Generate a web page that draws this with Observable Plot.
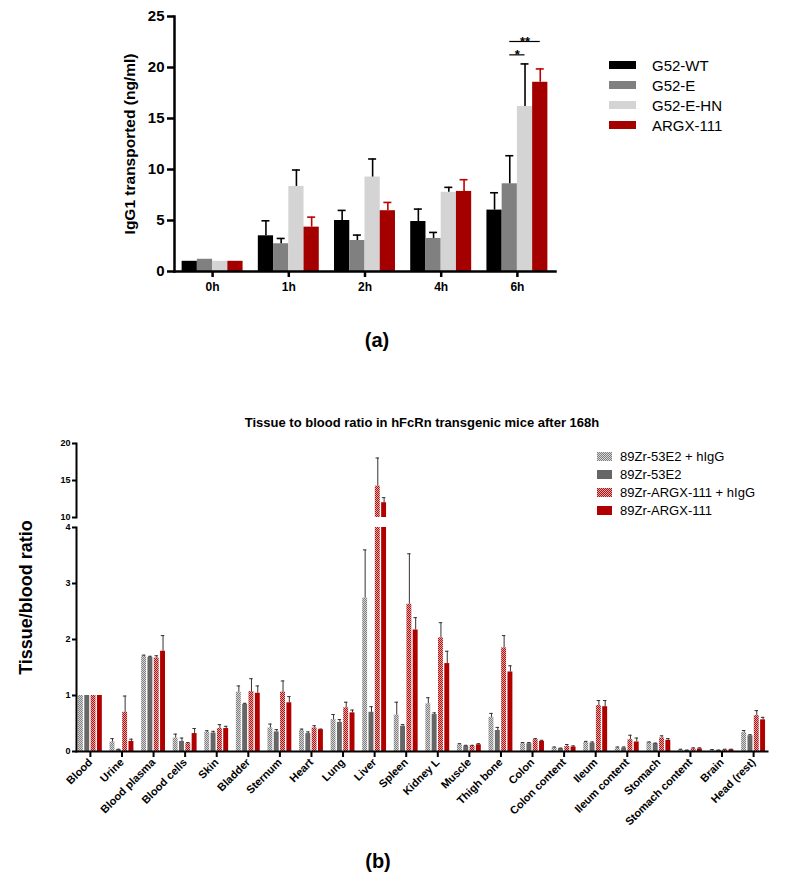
<!DOCTYPE html>
<html>
<head>
<meta charset="utf-8">
<script src="https://cdn.jsdelivr.net/npm/d3@7"></script>
<script src="https://cdn.jsdelivr.net/npm/@observablehq/plot@0.6"></script>
<style>
  body { margin: 0; background: #fff; }
  #root { position: relative; width: 789px; height: 880px; overflow: hidden;
          font-family: "Liberation Sans", Arial, sans-serif; color: #000; background: #fff; }
  .abs { position: absolute; }
  .leg { position: absolute; }
  .leg .row { display: flex; align-items: center; white-space: nowrap; }
  .cap { text-align: center; font-weight: bold; font-size: 20px; line-height: 24px; }
</style>
</head>
<body>
<svg width="0" height="0" style="position:absolute">
  <defs>
    <pattern id="chkGray" width="2" height="2" patternUnits="userSpaceOnUse">
      <rect width="2" height="2" fill="#d6d6d6"></rect>
      <rect width="1" height="1" fill="#7e7e7e"></rect>
      <rect x="1" y="1" width="1" height="1" fill="#7e7e7e"></rect>
    </pattern>
    <pattern id="chkRed" width="2" height="2" patternUnits="userSpaceOnUse">
      <rect width="2" height="2" fill="#e6a6a6"></rect>
      <rect width="1" height="1" fill="#a81414"></rect>
      <rect x="1" y="1" width="1" height="1" fill="#a81414"></rect>
    </pattern>
  </defs>
</svg>
<div id="root">
  <div id="chartA" class="abs" style="left:0;top:0"></div>
  <div id="legendA" class="leg" style="left:609px;top:55px;font-size:15px"></div>
  <div class="abs cap" style="left:0;width:754px;top:328px">(a)</div>

  <div class="abs" style="left:0;width:844px;top:415px;text-align:center;font-weight:bold;font-size:13px;line-height:16px" id="titleB"></div>
  <div id="chartBTop" class="abs" style="left:0;top:436px"></div>
  <div id="chartBBot" class="abs" style="left:0;top:520px"></div>
  <div id="legendB" class="leg" style="left:597px;top:447px;font-size:13px"></div>
  <div class="abs cap" style="left:0;width:756px;top:849px">(b)</div>
</div>
<script>
// ---------------- Data: panel (a) ----------------
const timepoints = ["0h", "1h", "2h", "4h", "6h"];
const seriesA = ["G52-WT", "G52-E", "G52-E-HN", "ARGX-111"];
const meanWT   = [1.0, 3.50, 5.00, 4.90, 6.02];
const sdWT     = [0,   1.47, 0.99, 1.22, 1.70];
const meanE    = [1.2, 2.72, 3.04, 3.24, 8.60];
const sdE      = [0,   0.52, 0.53, 0.59, 2.75];
const meanHN   = [1.0, 8.34, 9.26, 7.76, 16.17];
const sdHN     = [0,   1.61, 1.77, 0.49, 4.18];
const meanARGX = [1.0, 4.35, 5.96, 7.85, 18.55];
const sdARGX   = [0,   0.98, 0.81, 1.15, 1.31];
const yTicksA = [0, 5, 10, 15, 20, 25];
const yLabelA = "IgG1 transported (ng/ml)";
const sigLabels = ["*", "**"];
const sigTime = ["6h", "6h"];
const sigFrom = ["G52-E", "G52-E"];
const sigTo = ["G52-E-HN", "ARGX-111"];
const sigY = [21.24, 22.55];

// ---------------- Data: panel (b) ----------------
const titleB = "Tissue to blood ratio in hFcRn transgenic mice after 168h";
const tissues = ["Blood", "Urine", "Blood plasma", "Blood cells", "Skin", "Bladder", "Sternum",
  "Heart", "Lung", "Liver", "Spleen", "Kidney L", "Muscle", "Thigh bone", "Colon",
  "Colon content", "Ileum", "Ileum content", "Stomach", "Stomach content", "Brain", "Head (rest)"];
const seriesB = ["89Zr-53E2 + hIgG", "89Zr-53E2", "89Zr-ARGX-111 + hIgG", "89Zr-ARGX-111"];
const mean53E2h = [1.0, 0.17, 1.70, 0.24, 0.34, 1.06, 0.42, 0.375, 0.57, 2.74, 0.65, 0.85, 0.12, 0.61, 0.14, 0.065, 0.16, 0.06, 0.16, 0.03, 0.025, 0.34];
const sd53E2h   = [0, 0.06, 0.02, 0.07, 0.03, 0.11, 0.07, 0.025, 0.09, 0.86, 0.23, 0.11, 0.02, 0.07, 0.02, 0.015, 0.02, 0.02, 0.01, 0.01, 0.01, 0.035];
const mean53E2  = [1.0, 0.03, 1.68, 0.18, 0.33, 0.84, 0.35, 0.32, 0.52, 0.70, 0.45, 0.66, 0.095, 0.375, 0.14, 0.05, 0.15, 0.06, 0.14, 0.02, 0.02, 0.28];
const sd53E2    = [0, 0.01, 0.02, 0.06, 0.03, 0.02, 0.04, 0.03, 0.05, 0.10, 0.03, 0.03, 0.015, 0.055, 0.02, 0.01, 0.02, 0.02, 0.01, 0.005, 0.005, 0.02];
const meanARGXh = [1.0, 0.70, 1.67, 0.14, 0.41, 1.07, 1.06, 0.42, 0.78, 14.24, 2.63, 2.03, 0.10, 1.85, 0.21, 0.09, 0.82, 0.21, 0.24, 0.045, 0.03, 0.64];
const sdARGXh   = [0, 0.29, 0.04, 0.02, 0.07, 0.23, 0.20, 0.04, 0.10, 3.80, 0.90, 0.27, 0.01, 0.22, 0.02, 0.035, 0.09, 0.08, 0.04, 0.02, 0.01, 0.09];
const meanARGXb = [1.0, 0.18, 1.79, 0.32, 0.41, 1.04, 0.87, 0.39, 0.69, 12.0, 2.17, 1.57, 0.12, 1.42, 0.18, 0.08, 0.80, 0.17, 0.20, 0.045, 0.03, 0.565];
const sdARGXb   = [0, 0.04, 0.28, 0.09, 0.04, 0.13, 0.11, 0.01, 0.05, 0.68, 0.22, 0.22, 0.02, 0.11, 0.02, 0.02, 0.11, 0.07, 0.03, 0.02, 0.01, 0.045];
const yTicksBLow = [0, 1, 2, 3, 4];
const yTicksBHigh = [10, 15, 20];
const yLabelB = "Tissue/blood ratio";

// ---------------- Styles ----------------
const colorsA = ["#000000", "#808080", "#d4d4d4", "#a50000"];
const errColorsA = ["#000000", "#000000", "#000000", "#c00000"];
const colorsB = ["url(#chkGray)", "#666666", "url(#chkRed)", "#b00000"];
const errColorB = "#333333";
const font = "'Liberation Sans', Arial, sans-serif";

// ---------------- Panel (a) ----------------
const meansA = [meanWT, meanE, meanHN, meanARGX];
const sdsA = [sdWT, sdE, sdHN, sdARGX];
const rowsA = seriesA.flatMap((s, i) => timepoints.map((t, j) => ({t, s, i, mean: meansA[i][j], sd: sdsA[i][j]})));

const A = {width: 600, height: 300, ml: 174, mr: 45, mt: 16, mb: 29, pi: 0.2, po: 0.1};
const stepA = (A.width - A.ml - A.mr) / (timepoints.length - A.pi + 2 * A.po);
const wA = stepA * (1 - A.pi) / seriesA.length;
const capA = 4;

const marksA = [];
seriesA.forEach((s, i) => {
  const rows = rowsA.filter(d => d.i === i);
  marksA.push(Plot.barY(rows, {x: "t", y: "mean", fill: colorsA[i],
    insetLeft: i * wA, insetRight: (seriesA.length - 1 - i) * wA}));
  const err = rows.filter(d => d.sd > 0);
  marksA.push(Plot.ruleX(err, {x: "t", y1: "mean", y2: d => d.mean + d.sd,
    dx: (i + 0.5 - seriesA.length / 2) * wA, stroke: errColorsA[i], strokeWidth: 1.6}));
  marksA.push(Plot.tickY(err, {x: "t", y: d => d.mean + d.sd, stroke: errColorsA[i], strokeWidth: 1.6,
    insetLeft: i * wA + wA / 2 - capA, insetRight: (seriesA.length - 1 - i) * wA + wA / 2 - capA}));
});
sigLabels.forEach((lab, k) => {
  const a = seriesA.indexOf(sigFrom[k]), b = seriesA.indexOf(sigTo[k]);
  const d = [{t: sigTime[k], y: sigY[k], lab}];
  marksA.push(Plot.tickY(d, {x: "t", y: "y", stroke: "#000", strokeWidth: 1.2,
    insetLeft: (a + 0.5) * wA, insetRight: (seriesA.length - b - 0.5) * wA}));
  marksA.push(Plot.text(d, {x: "t", y: "y", text: "lab", fontSize: 13, fontWeight: "bold",
    dx: ((a + b) / 2 + 0.5 - seriesA.length / 2) * wA, lineAnchor: "middle"}));
});

const chartA = Plot.plot({
  width: A.width, height: A.height,
  marginLeft: A.ml, marginRight: A.mr, marginTop: A.mt, marginBottom: A.mb,
  style: {fontFamily: font, color: "#000", background: "transparent", overflow: "visible"},
  x: {domain: timepoints, paddingInner: A.pi, paddingOuter: A.po, round: false, label: null},
  y: {domain: [0, 25], label: null},
  marks: [
    ...marksA,
    Plot.frame({anchor: "left", strokeWidth: 2.5}),
    Plot.frame({anchor: "bottom", strokeWidth: 2.5}),
    Plot.axisY({ticks: yTicksA, tickSize: 7, tickPadding: 3, fontSize: 15, fontWeight: "bold", strokeWidth: 2.5, label: null}),
    Plot.axisX({tickSize: 6, tickPadding: 5, fontSize: 12, fontWeight: "bold", strokeWidth: 2.5, label: null}),
    Plot.text([yLabelA], {text: d => d, frameAnchor: "left", textAnchor: "middle", lineAnchor: "middle",
      rotate: -90, dx: -44, fontSize: 15.5, fontWeight: "bold"})
  ]
});
document.getElementById("chartA").append(chartA);

// legend (a)
const legA = document.getElementById("legendA");
seriesA.forEach((s, i) => {
  const row = document.createElement("div");
  row.className = "row";
  row.style.height = "20px";
  row.innerHTML = `<span style="display:inline-block;width:27px;height:8px;background:${colorsA[i]};margin-right:16px"></span><span>${s}</span>`;
  legA.append(row);
});

// ---------------- Panel (b) ----------------
document.getElementById("titleB").textContent = titleB;
const meansB = [mean53E2h, mean53E2, meanARGXh, meanARGXb];
const sdsB = [sd53E2h, sd53E2, sdARGXh, sdARGXb];
const rowsB = seriesB.flatMap((s, i) => tissues.map((t, j) => ({t, s, i, mean: meansB[i][j], sd: sdsB[i][j]})));

const B = {width: 789, ml: 76, mr: 22, pi: 0.2, po: 0.04};
const stepB = (B.width - B.ml - B.mr) / (tissues.length - B.pi + 2 * B.po);
const wB = stepB * (1 - B.pi) / seriesB.length;
const gapB = 0.7, capB = 1.75;

function barMarksB() {
  const m = [];
  seriesB.forEach((s, i) => {
    const rows = rowsB.filter(d => d.i === i);
    m.push(Plot.barY(rows, {x: "t", y: "mean", fill: colorsB[i], clip: true,
      insetLeft: i * wB + gapB, insetRight: (seriesB.length - 1 - i) * wB + gapB}));
    const err = rows.filter(d => d.sd > 0);
    m.push(Plot.ruleX(err, {x: "t", y1: "mean", y2: d => d.mean + d.sd, clip: true,
      dx: (i + 0.5 - seriesB.length / 2) * wB, stroke: errColorB, strokeWidth: 1}));
    m.push(Plot.tickY(err, {x: "t", y: d => d.mean + d.sd, stroke: errColorB, strokeWidth: 1, clip: true,
      insetLeft: i * wB + wB / 2 - capB, insetRight: (seriesB.length - 1 - i) * wB + wB / 2 - capB}));
  });
  return m;
}

const xB = {domain: tissues, paddingInner: B.pi, paddingOuter: B.po, round: false, label: null};
const styleB = {fontFamily: font, color: "#000", background: "transparent", overflow: "visible"};

const chartBTop = Plot.plot({
  width: B.width, height: 84, marginLeft: B.ml, marginRight: B.mr, marginTop: 7, marginBottom: 3,
  style: styleB,
  x: {...xB, axis: null},
  y: {domain: [10, 20], label: null},
  marks: [
    ...barMarksB(),
    Plot.frame({anchor: "left", strokeWidth: 2}),
    Plot.axisY({ticks: yTicksBHigh, tickFormat: d => String(d), tickSize: 4, tickPadding: 2, fontSize: 9, fontWeight: "bold", strokeWidth: 2, label: null})
  ]
});
document.getElementById("chartBTop").append(chartBTop);

const chartBBot = Plot.plot({
  width: B.width, height: 341, marginLeft: B.ml, marginRight: B.mr, marginTop: 7, marginBottom: 110,
  style: styleB,
  x: xB,
  y: {domain: [0, 4], label: null},
  marks: [
    ...barMarksB(),
    Plot.frame({anchor: "left", strokeWidth: 2}),
    Plot.frame({anchor: "bottom", strokeWidth: 2}),
    Plot.axisY({ticks: yTicksBLow, tickFormat: d => String(d), tickSize: 4, tickPadding: 2, fontSize: 9, fontWeight: "bold", strokeWidth: 2, label: null}),
    Plot.axisX({tickSize: 6, tickPadding: 3, tickRotate: -45, fontSize: 11, fontWeight: "bold", strokeWidth: 2, label: null}),
    Plot.text([yLabelB], {text: d => d, frameAnchor: "left", textAnchor: "middle", lineAnchor: "middle",
      rotate: -90, dx: -50, dy: -42, fontSize: 18, fontWeight: "bold"})
  ]
});
document.getElementById("chartBBot").append(chartBBot);

// legend (b)
const legB = document.getElementById("legendB");
seriesB.forEach((s, i) => {
  const row = document.createElement("div");
  row.className = "row";
  row.style.height = "18px";
  row.innerHTML = `<svg width="15" height="9" style="margin-right:8px"><rect width="15" height="9" fill="${colorsB[i]}"></rect></svg><span>${s}</span>`;
  legB.append(row);
});
</script>
</body>
</html>
